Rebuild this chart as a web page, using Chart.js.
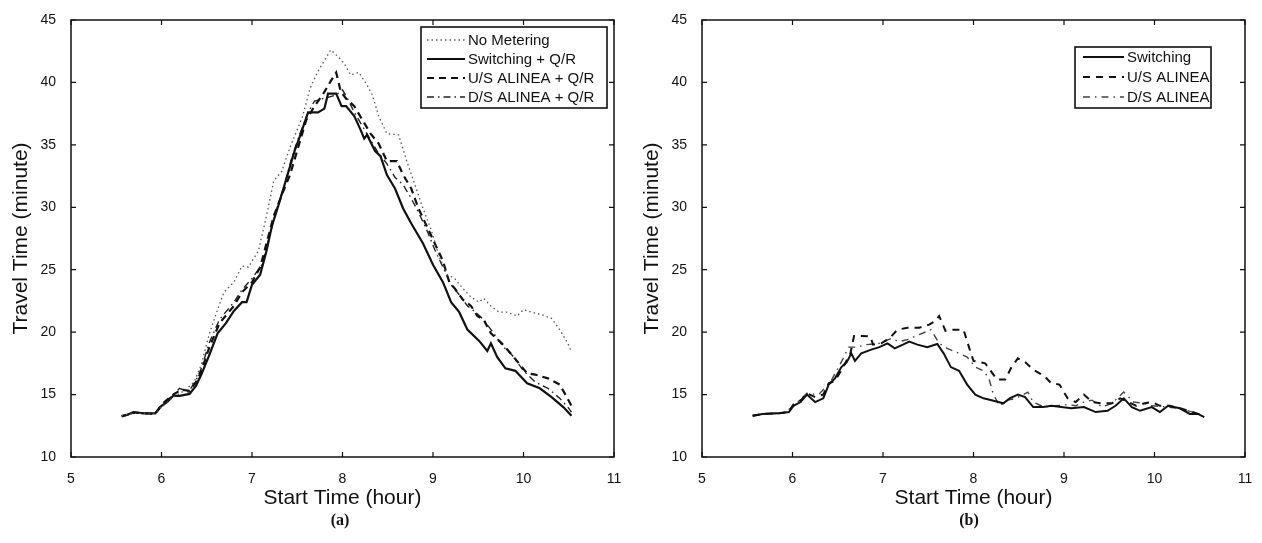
<!DOCTYPE html>
<html>
<head>
<meta charset="utf-8">
<script src="https://cdn.jsdelivr.net/npm/chart.js@4.4.1/dist/chart.umd.min.js"></script>
<style>
  body { margin: 0; background: #fff; width: 1262px; height: 543px; position: relative; overflow: hidden; }
  .panel { position: absolute; top: 0; width: 631px; height: 543px; }
  .cap { position: absolute; top: 511px; font: bold 16px "Liberation Serif", "DejaVu Serif", serif; color: #111; transform: translateX(-50%); }
</style>
</head>
<body>
<div class="panel" style="left:0"><canvas id="chartA" width="631" height="543"></canvas></div>
<div class="panel" style="left:631px"><canvas id="chartB" width="631" height="543"></canvas></div>
<div class="cap" style="left:340px">(a)</div>
<div class="cap" style="left:969px">(b)</div>
<script>
// ejes comunes
const xTicksMin = 5, xTicksMax = 11, xStep = 1;
const yTicksMin = 10, yTicksMax = 45, yStep = 5;

// (a) tiempo de inicio (h), tiempo de viaje (min)
const aNoMetering = [[5.56,13.3],[5.7,13.5],[5.93,13.5],[6.0,14.0],[6.13,14.8],[6.25,15.3],[6.36,16.0],[6.44,17.4],[6.53,19.9],[6.62,21.8],[6.69,23.2],[6.8,24.0],[6.89,25.3],[6.96,25.2],[7.07,26.5],[7.16,29.3],[7.24,32.1],[7.33,32.9],[7.42,34.8],[7.56,37.3],[7.64,39.5],[7.73,40.9],[7.87,42.6],[7.96,42.0],[8.02,41.5],[8.09,40.6],[8.18,40.8],[8.27,39.8],[8.33,39.0],[8.4,37.3],[8.49,35.9],[8.62,35.8],[8.71,33.7],[8.8,31.8],[8.89,29.9],[8.98,28.2],[9.07,26.0],[9.16,24.6],[9.24,24.3],[9.33,23.5],[9.42,22.8],[9.51,22.4],[9.56,22.7],[9.64,22.1],[9.73,21.6],[9.82,21.6],[9.93,21.3],[10.0,21.8],[10.09,21.6],[10.2,21.4],[10.31,21.1],[10.4,20.2],[10.49,19.1],[10.53,18.4]];
const aSwitching = [[5.56,13.26],[5.63,13.4],[5.69,13.6],[5.8,13.5],[5.93,13.5],[6.0,14.1],[6.06,14.4],[6.13,14.9],[6.2,14.9],[6.31,15.05],[6.38,15.7],[6.44,16.6],[6.53,18.2],[6.62,19.9],[6.71,20.7],[6.8,21.7],[6.89,22.4],[6.94,22.4],[7.0,23.8],[7.09,24.6],[7.16,26.5],[7.22,28.5],[7.29,30.1],[7.38,32.3],[7.47,34.5],[7.53,35.7],[7.62,37.6],[7.73,37.6],[7.8,37.9],[7.84,39.1],[7.93,39.1],[7.99,38.1],[8.04,38.1],[8.13,37.3],[8.2,36.2],[8.24,35.5],[8.27,35.8],[8.36,34.5],[8.42,34.1],[8.49,32.6],[8.58,31.5],[8.67,29.9],[8.76,28.7],[8.89,27.1],[9.0,25.4],[9.11,24.0],[9.2,22.4],[9.29,21.6],[9.38,20.2],[9.51,19.3],[9.6,18.5],[9.64,19.1],[9.71,18.0],[9.8,17.1],[9.91,16.9],[10.04,15.9],[10.18,15.5],[10.31,14.8],[10.44,14.0],[10.53,13.3]];
const aUsAlinea = [[5.56,13.25],[5.7,13.55],[5.93,13.45],[6.0,14.2],[6.13,15.0],[6.22,15.4],[6.31,15.3],[6.4,16.2],[6.44,16.9],[6.53,18.8],[6.64,20.7],[6.8,22.1],[6.89,23.2],[7.0,24.0],[7.09,25.2],[7.16,27.1],[7.24,29.3],[7.33,31.0],[7.42,32.6],[7.51,34.8],[7.6,37.0],[7.69,38.1],[7.78,39.0],[7.87,40.1],[7.93,40.8],[7.98,39.3],[8.04,38.7],[8.13,38.1],[8.22,37.0],[8.31,35.9],[8.4,35.1],[8.49,33.7],[8.6,33.7],[8.67,32.6],[8.76,31.5],[8.84,29.9],[8.93,28.5],[9.02,27.1],[9.11,25.7],[9.18,24.0],[9.24,23.5],[9.33,22.6],[9.42,22.1],[9.49,21.3],[9.56,21.0],[9.64,19.9],[9.76,19.1],[9.87,18.2],[9.96,17.4],[10.04,16.7],[10.13,16.6],[10.27,16.3],[10.4,15.8],[10.47,14.9],[10.53,14.1]];
const aDsAlinea = [[5.56,13.3],[5.7,13.5],[5.93,13.5],[6.0,14.0],[6.1,14.8],[6.2,15.5],[6.3,15.2],[6.4,16.4],[6.44,17.1],[6.53,19.2],[6.64,21.0],[6.8,22.4],[6.89,23.4],[7.0,24.3],[7.11,25.4],[7.18,27.3],[7.27,29.8],[7.36,31.8],[7.44,34.0],[7.53,35.9],[7.62,37.6],[7.69,38.5],[7.78,38.7],[7.84,38.8],[7.93,39.0],[8.0,39.4],[8.07,38.5],[8.13,37.6],[8.22,36.5],[8.31,35.4],[8.4,34.3],[8.49,33.5],[8.58,32.4],[8.67,31.8],[8.76,30.7],[8.84,29.6],[8.93,28.2],[9.02,26.6],[9.11,25.2],[9.2,23.8],[9.29,23.0],[9.38,22.1],[9.47,21.6],[9.56,21.0],[9.64,20.2],[9.78,18.8],[9.87,18.2],[10.0,16.9],[10.13,16.0],[10.27,15.5],[10.4,14.7],[10.49,14.0],[10.53,13.6]];

// (b)
const bSwitching = [[5.56,13.3],[5.67,13.45],[5.85,13.5],[5.96,13.6],[6.01,14.1],[6.09,14.4],[6.16,15.0],[6.25,14.4],[6.34,14.7],[6.4,15.8],[6.47,16.3],[6.54,17.2],[6.6,17.6],[6.65,18.3],[6.69,17.7],[6.76,18.3],[6.87,18.6],[6.96,18.8],[7.05,19.1],[7.13,18.7],[7.22,19.0],[7.29,19.25],[7.38,19.0],[7.49,18.8],[7.6,19.05],[7.67,18.3],[7.75,17.2],[7.84,16.9],[7.93,15.8],[8.02,15.0],[8.11,14.7],[8.2,14.55],[8.33,14.3],[8.4,14.7],[8.49,15.0],[8.57,14.8],[8.66,14.0],[8.77,14.0],[8.86,14.1],[8.97,14.0],[9.08,13.9],[9.22,14.0],[9.35,13.6],[9.48,13.7],[9.57,14.1],[9.66,14.7],[9.75,14.0],[9.84,13.7],[9.97,14.0],[10.06,13.6],[10.15,14.1],[10.28,13.9],[10.39,13.45],[10.48,13.45],[10.55,13.2]];
const bUsAlinea = [[5.56,13.3],[5.67,13.45],[5.85,13.5],[5.96,13.6],[6.01,14.2],[6.1,14.6],[6.16,15.1],[6.25,14.8],[6.34,15.0],[6.4,15.9],[6.47,16.1],[6.56,17.2],[6.64,18.3],[6.68,19.7],[6.77,19.7],[6.86,19.65],[6.89,19.0],[6.98,19.1],[7.07,19.5],[7.16,20.2],[7.27,20.35],[7.4,20.35],[7.51,20.6],[7.58,20.9],[7.62,21.3],[7.69,20.1],[7.75,20.2],[7.89,20.2],[7.95,18.8],[8.0,17.7],[8.06,17.6],[8.13,17.5],[8.2,16.8],[8.26,16.2],[8.35,16.2],[8.42,17.2],[8.49,17.9],[8.57,17.6],[8.66,17.0],[8.78,16.5],[8.86,15.9],[8.95,15.8],[9.04,14.7],[9.13,14.4],[9.22,15.0],[9.31,14.4],[9.42,14.3],[9.53,14.3],[9.62,14.7],[9.71,14.4],[9.8,14.1],[9.89,14.3],[9.97,14.4],[10.06,14.1],[10.17,14.1],[10.28,13.9],[10.42,13.6],[10.55,13.3]];
const bDsAlinea = [[5.56,13.3],[5.7,13.45],[5.9,13.55],[6.0,14.0],[6.1,14.7],[6.16,15.1],[6.29,15.0],[6.42,16.0],[6.56,17.9],[6.62,18.8],[6.71,18.8],[6.82,19.0],[6.96,19.1],[7.09,19.5],[7.18,19.25],[7.27,19.4],[7.4,19.8],[7.53,20.2],[7.62,19.1],[7.71,18.7],[7.84,18.3],[7.93,18.0],[8.02,17.2],[8.11,16.9],[8.17,16.3],[8.22,15.0],[8.29,14.1],[8.38,14.55],[8.47,14.7],[8.6,15.2],[8.66,14.4],[8.78,14.0],[8.91,14.1],[9.04,14.2],[9.13,14.1],[9.22,14.4],[9.31,14.55],[9.42,14.0],[9.53,14.3],[9.66,15.2],[9.77,14.4],[9.88,14.3],[9.97,14.1],[10.15,14.0],[10.28,13.9],[10.42,13.6],[10.55,13.3]];

const FONT = '"Liberation Sans", Arial, Helvetica, sans-serif';

function pts(arr) {
  return arr.map((p) => ({ x: p[0], y: p[1] }));
}

function serie(label, arr, color, width, dash) {
  return {
    label,
    data: pts(arr),
    borderColor: color,
    borderWidth: width,
    borderDash: dash,
    pointRadius: 0,
    fill: false,
    tension: 0,
  };
}

// marco, marcas hacia adentro y leyenda dentro del area
const marco = {
  id: "marco",
  afterDatasetsDraw(chart, args, opts) {
    const { ctx, chartArea: a, scales } = chart;
    const x = scales.x, y = scales.y;
    ctx.save();
    ctx.strokeStyle = "#111";
    ctx.lineWidth = 1.5;
    ctx.setLineDash([]);
    ctx.strokeRect(a.left, a.top, a.right - a.left, a.bottom - a.top);
    ctx.lineWidth = 1.2;
    ctx.beginPath();
    x.ticks.forEach((t) => {
      const px = x.getPixelForValue(t.value);
      ctx.moveTo(px, a.bottom); ctx.lineTo(px, a.bottom - 5);
      ctx.moveTo(px, a.top); ctx.lineTo(px, a.top + 5);
    });
    y.ticks.forEach((t) => {
      const py = y.getPixelForValue(t.value);
      ctx.moveTo(a.left, py); ctx.lineTo(a.left + 5, py);
      ctx.moveTo(a.right, py); ctx.lineTo(a.right - 5, py);
    });
    ctx.stroke();

    // leyenda
    const L = opts.leyenda;
    if (L) {
      ctx.fillStyle = "#fff";
      ctx.fillRect(L.box[0], L.box[1], L.box[2], L.box[3]);
      ctx.lineWidth = 1.6;
      ctx.strokeStyle = "#111";
      ctx.strokeRect(L.box[0], L.box[1], L.box[2], L.box[3]);
      ctx.font = "15px " + FONT;
      ctx.textBaseline = "middle";
      ctx.textAlign = "left";
      chart.data.datasets.forEach((ds, i) => {
        const ry = L.rowY + i * L.rowGap;
        ctx.beginPath();
        ctx.strokeStyle = ds.borderColor;
        ctx.lineWidth = ds.borderWidth;
        ctx.setLineDash(ds.borderDash || []);
        ctx.moveTo(L.lineX[0], ry);
        ctx.lineTo(L.lineX[1], ry);
        ctx.stroke();
        ctx.setLineDash([]);
        ctx.fillStyle = "#111";
        ctx.fillText(ds.label, L.textX, ry + 1);
      });
    }
    ctx.restore();
  },
};

function opciones(leyenda) {
  return {
    responsive: false,
    animation: false,
    layout: { padding: { top: 20, right: 17, bottom: 30, left: 0 } },
    plugins: {
      legend: { display: false },
      tooltip: { enabled: false },
      marco: { leyenda },
    },
    scales: {
      x: {
        type: "linear",
        min: xTicksMin,
        max: xTicksMax,
        ticks: { stepSize: xStep, padding: 14, color: "#111", font: { family: FONT, size: 14 } },
        grid: { display: false, drawTicks: false },
        border: { display: false },
        title: { display: true, text: "Start Time (hour)", color: "#111", font: { family: FONT, size: 21 }, padding: { top: 0, bottom: 2 } },
        afterFit(s) { s.height = 56; s.paddingLeft = 0; s.paddingRight = 0; },
      },
      y: {
        min: yTicksMin,
        max: yTicksMax,
        ticks: { stepSize: yStep, padding: 15, color: "#111", font: { family: FONT, size: 14 } },
        grid: { display: false, drawTicks: false },
        border: { display: false },
        title: { display: true, text: "Travel Time (minute)", color: "#111", font: { family: FONT, size: 21 }, padding: { top: 9, bottom: 0 } },
        afterFit(s) { s.width = 71; s.paddingTop = 0; s.paddingBottom = 0; },
      },
    },
  };
}

new Chart(document.getElementById("chartA").getContext("2d"), {
  type: "line",
  data: {
    datasets: [
      serie("No Metering", aNoMetering, "#555", 1.3, [1.5, 3]),
      serie("Switching + Q/R", aSwitching, "#111", 2.2, []),
      serie("U/S ALINEA + Q/R", aUsAlinea, "#111", 2.2, [7, 5]),
      serie("D/S ALINEA + Q/R", aDsAlinea, "#222", 1.4, [7, 4, 1.5, 4]),
    ],
  },
  options: opciones({ box: [421, 27, 186, 81], rowY: 40, rowGap: 19, lineX: [427, 465], textX: 468 }),
  plugins: [marco],
});

new Chart(document.getElementById("chartB").getContext("2d"), {
  type: "line",
  data: {
    datasets: [
      serie("Switching", bSwitching, "#111", 2, []),
      serie("U/S ALINEA", bUsAlinea, "#111", 2, [7, 6]),
      serie("D/S ALINEA", bDsAlinea, "#444", 1.4, [7, 5, 1.5, 5]),
    ],
  },
  options: opciones({ box: [444, 47, 136, 61], rowY: 57, rowGap: 20, lineX: [452, 493], textX: 496 }),
  plugins: [marco],
});
</script>
</body>
</html>
